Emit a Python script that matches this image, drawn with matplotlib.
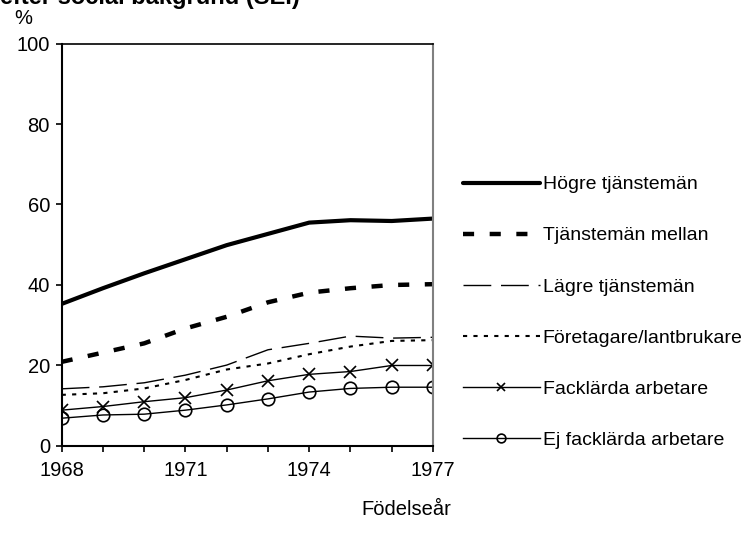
import matplotlib
matplotlib.use('Agg')
import matplotlib.pyplot as plt

# Data
years = [1968, 1969, 1970, 1971, 1972, 1973, 1974, 1975, 1976, 1977]
hogre = [35.3, 39.2, 42.9, 46.4, 49.9, 52.7, 55.5, 56.1, 55.9, 56.5]
mellan = [20.9, 23.2, 25.5, 29.2, 32.1, 35.7, 38.1, 39.2, 40.0, 40.2]
lagre = [14.2, 14.7, 15.7, 17.6, 20.1, 23.9, 25.5, 27.3, 26.8, 27.0]
foretagare = [12.7, 13.1, 14.3, 16.4, 19.0, 20.5, 22.8, 24.7, 26.1, 26.3]
facklarda = [8.9, 9.8, 11.0, 12.0, 13.9, 16.2, 17.8, 18.5, 20.0, 20.0]
ej_facklarda = [6.9, 7.7, 7.9, 8.9, 10.2, 11.7, 13.4, 14.3, 14.6, 14.6]

labels = ['Högre tjänstemän', 'Tjänstemän mellan', 'Lägre tjänstemän',
          'Företagare/lantbrukare', 'Facklärda arbetare', 'Ej facklärda arbetare']
xticks = [1968, 1971, 1974, 1977]
yticks = [0, 20, 40, 60, 80, 100]

plt.rcParams['font.family'] = ['Liberation Sans', 'DejaVu Sans']
fs = 14.5
plt.rcParams['font.size'] = fs

fig = plt.figure(figsize=(7.46, 5.46), dpi=100)
ax = fig.add_axes([0.0827, 0.1832, 0.4977, 0.7371])

ax.plot(years, hogre, color='black', lw=3, solid_capstyle='round', label=labels[0])
ax.plot(years, mellan, color='black', lw=3.2, linestyle=(0, (2.5, 3.5)), label=labels[1])
ax.plot(years, lagre, color='black', lw=1, linestyle=(0, (20, 7)), label=labels[2])
ax.plot(years, foretagare, color='black', lw=1.5, linestyle=(0, (2, 3)), label=labels[3])
ax.plot(years, facklarda, color='black', lw=1, marker='x', markersize=9, mew=1.2,
        label=labels[4])
ax.plot(years, ej_facklarda, color='black', lw=1, marker='o', markersize=9, mew=1.2,
        mfc='none', label=labels[5])

ax.set_xlim(1968, 1977)
ax.set_ylim(0, 100)
ax.set_xticks(years)
ax.set_xticklabels([str(y) if y in xticks else '' for y in years])
ax.set_yticks(yticks)
ax.tick_params(axis='both', direction='out', length=4.5, width=1.2, color='black', labelsize=fs)
ax.tick_params(axis='x', pad=6)
ax.tick_params(axis='y', pad=4)

for side in ['left', 'bottom']:
    ax.spines[side].set_linewidth(1.5)
ax.spines['top'].set_linewidth(1.2)
ax.spines['right'].set_color('#808080')
ax.spines['right'].set_linewidth(1.5)

fig.legend(loc='upper left', bbox_to_anchor=(0.6206, 0.678), frameon=False,
           handlelength=3.95, handletextpad=0.15, labelspacing=1.72,
           markerscale=0.7, fontsize=14, borderaxespad=0, borderpad=0)

fig.text(0.019, 0.956, '%', fontsize=fs)
fig.text(0.544, 0.066, 'Födelseår', fontsize=fs, ha='center', va='center')
fig.text(0.0, 0.992, 'efter social bakgrund (SEI)', fontsize=17, fontweight='bold',
         va='baseline')

plt.savefig('out.png', dpi=100)
plt.close()
